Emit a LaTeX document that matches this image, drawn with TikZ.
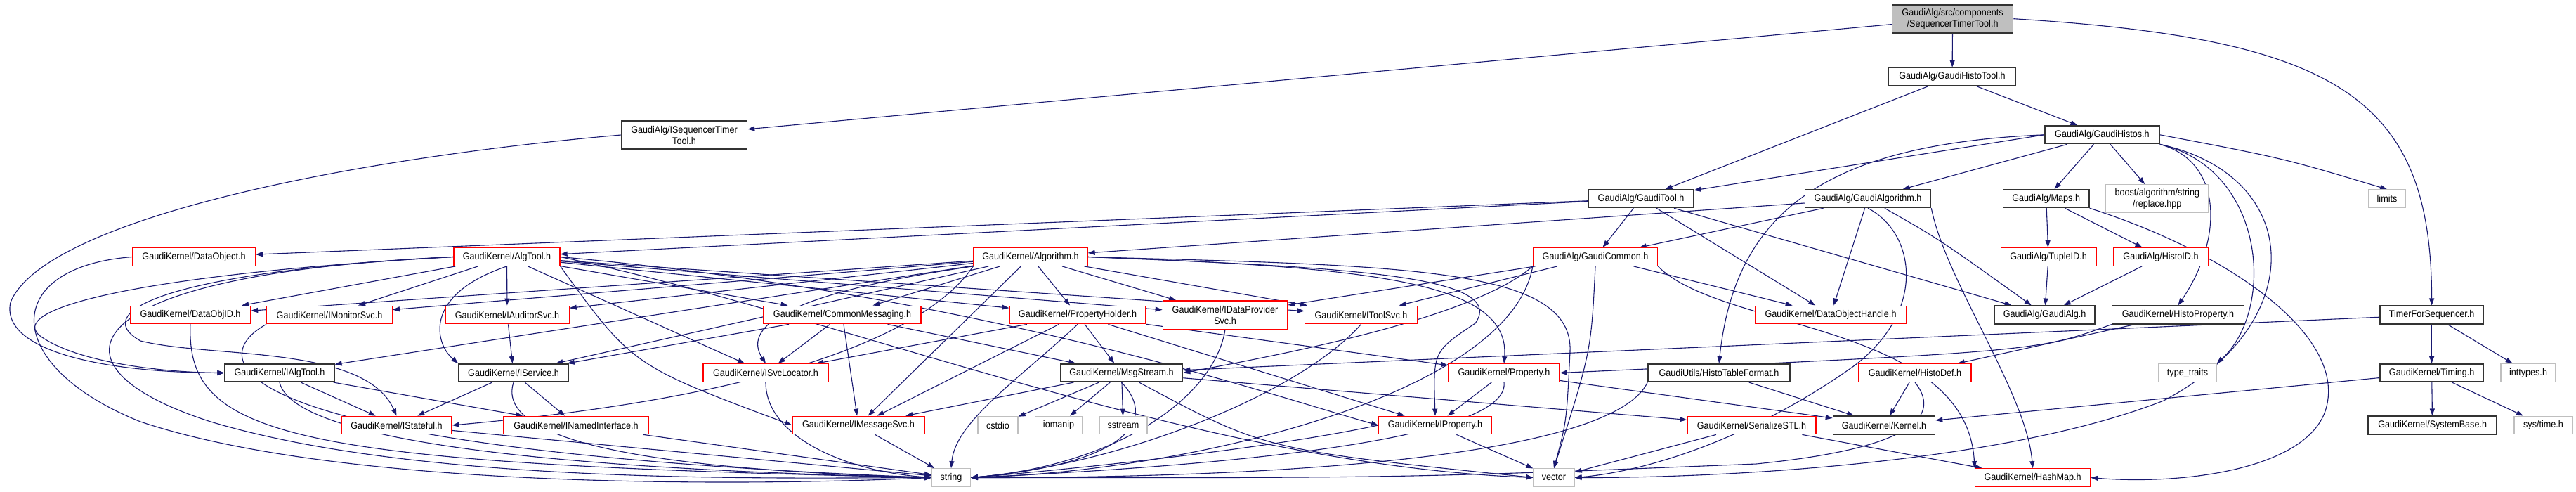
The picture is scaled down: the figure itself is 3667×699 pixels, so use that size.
\documentclass[tikz,border=0pt]{standalone}
\usepackage{fontspec}
\setmainfont{Liberation Sans}[FakeStretch=0.9]
\usetikzlibrary{arrows.meta}
\definecolor{edgec}{HTML}{191970}
\definecolor{grayb}{HTML}{BFBFBF}
\pgfdeclarelayer{background}
\pgfsetlayers{background,main}
\begin{document}
\begin{tikzpicture}[x=1pt,y=-1pt,
  nb/.style={draw, line width=1.3pt, inner sep=0pt, minimum height=25.5pt, align=center, font=\fontsize{14}{16}\selectfont, fill=white},
  bbox/.style={nb, draw=black!80, line width=1.6pt},
  rbox/.style={nb, draw=red},
  gbox/.style={nb, draw=grayb},
  rootbox/.style={nb, draw=black!80, line width=1.6pt, fill=grayb},
  dep/.style={draw=edgec, line width=1.1pt, -{Triangle[length=10pt,width=7pt]}}
]
\useasboundingbox (0,0) rectangle (3667,699);
% row 1-3
\node[rootbox, minimum width=172, minimum height=40] (root) at (2779.6,26.7) {GaudiAlg/src/components\\/SequencerTimerTool.h};
\node[bbox, minimum width=179, minimum height=40] (ist) at (974,192) {GaudiAlg/ISequencerTimer\\Tool.h};
\node[bbox, minimum width=181] (ght) at (2779,109.3) {GaudiAlg/GaudiHistoTool.h};
\node[bbox, minimum width=163] (gh) at (2992.4,191.8) {GaudiAlg/GaudiHistos.h};
\node[bbox, minimum width=149] (gt) at (2336,282.7) {GaudiAlg/GaudiTool.h};
\node[bbox, minimum width=179] (ga) at (2659,282.7) {GaudiAlg/GaudiAlgorithm.h};
\node[bbox, minimum width=122.4] (maps) at (2912.7,282.7) {GaudiAlg/Maps.h};
\node[gbox, minimum width=146.5, minimum height=39.6] (boost) at (3070.8,282.5) {boost/algorithm/string\\/replace.hpp};
\node[gbox, minimum width=53.3] (limits) at (3398,282.7) {limits};
% row 4
\node[rbox, minimum width=174.5] (dobj) at (276,365.5) {GaudiKernel/DataObject.h};
\node[rbox, minimum width=151] (algtool) at (721.5,365.5) {GaudiKernel/AlgTool.h};
\node[rbox, minimum width=162] (algo) at (1467,365.5) {GaudiKernel/Algorithm.h};
\node[rbox, minimum width=177] (gc) at (2271,365.5) {GaudiAlg/GaudiCommon.h};
\node[rbox, minimum width=135.7] (tuple) at (2916,365.5) {GaudiAlg/TupleID.h};
\node[rbox, minimum width=134.5] (hid) at (3076,365.5) {GaudiAlg/HistoID.h};
% row 5
\node[rbox, minimum width=171] (doid) at (271,448) {GaudiKernel/DataObjID.h};
\node[rbox, minimum width=178.6] (imon) at (469,448) {GaudiKernel/IMonitorSvc.h};
\node[rbox, minimum width=176.3] (iaud) at (722,448) {GaudiKernel/IAuditorSvc.h};
\node[rbox, minimum width=224] (cm) at (1199,448) {GaudiKernel/CommonMessaging.h};
\node[rbox, minimum width=194] (ph) at (1534,448) {GaudiKernel/PropertyHolder.h};
\node[rbox, minimum width=177.5, minimum height=40.3] (idp) at (1744,448) {GaudiKernel/IDataProvider\\Svc.h};
\node[rbox, minimum width=160] (its) at (1937.5,448) {GaudiKernel/IToolSvc.h};
\node[rbox, minimum width=214.4] (doh) at (2606,448) {GaudiKernel/DataObjectHandle.h};
\node[bbox, minimum width=142.4] (galg) at (2910.6,448) {GaudiAlg/GaudiAlg.h};
\node[bbox, minimum width=187.8] (hprop) at (3100.5,448) {GaudiKernel/HistoProperty.h};
\node[bbox, minimum width=146.7] (tfs) at (3461.6,448) {TimerForSequencer.h};
% row 6
\node[bbox, minimum width=155.6] (ialg) at (398,530.5) {GaudiKernel/IAlgTool.h};
\node[bbox, minimum width=156] (isvc) at (731,530.5) {GaudiKernel/IService.h};
\node[rbox, minimum width=178] (isl) at (1090,530.5) {GaudiKernel/ISvcLocator.h};
\node[bbox, minimum width=174] (ms) at (1596.5,530.5) {GaudiKernel/MsgStream.h};
\node[rbox, minimum width=158] (prop) at (2141,530.5) {GaudiKernel/Property.h};
\node[bbox, minimum width=202] (htf) at (2447,530.5) {GaudiUtils/HistoTableFormat.h};
\node[rbox, minimum width=160] (hdef) at (2726,530.5) {GaudiKernel/HistoDef.h};
\node[gbox, minimum width=82] (tt) at (3114,530.5) {type\_traits};
\node[bbox, minimum width=146.7] (timing) at (3461.6,530.5) {GaudiKernel/Timing.h};
\node[gbox, minimum width=78] (inttypes) at (3599,530.5) {inttypes.h};
% row 7
\node[rbox, minimum width=157] (istate) at (564.5,605) {GaudiKernel/IStateful.h};
\node[rbox, minimum width=206] (inamed) at (820,605) {GaudiKernel/INamedInterface.h};
\node[rbox, minimum width=188] (imsg) at (1222,605) {GaudiKernel/IMessageSvc.h};
\node[gbox, minimum width=57] (cstdio) at (1420.5,605) {cstdio};
\node[gbox, minimum width=66.6] (iomanip) at (1507,605) {iomanip};
\node[gbox, minimum width=68] (sstream) at (1599,605) {sstream};
\node[rbox, minimum width=161] (iprop) at (2043,605) {GaudiKernel/IProperty.h};
\node[rbox, minimum width=183] (sstl) at (2493.5,605) {GaudiKernel/SerializeSTL.h};
\node[bbox, minimum width=145] (kernel) at (2682,605) {GaudiKernel/Kernel.h};
\node[bbox, minimum width=183] (sysbase) at (3462.6,605) {GaudiKernel/SystemBase.h};
\node[gbox, minimum width=83] (systime) at (3620.5,605) {sys/time.h};
% row 8
\node[gbox, minimum width=54.5] (string) at (1354,679.5) {string};
\node[gbox, minimum width=58] (vector) at (2212,679.5) {vector};
\node[rbox, minimum width=164] (hashmap) at (2893.6,679.5) {GaudiKernel/HashMap.h};

\begin{pgfonlayer}{background}
% root
\draw[dep] (root) -- (ist);
\draw[dep] (root) -- (ght);
\draw[dep] (root.east) .. controls (3330,55) and (3461,140) .. (tfs.north);
\draw[dep] (ist.west) .. controls (450,230) and (60,320) .. (15,430) .. controls (0,500) and (150,530) .. (ialg.west);
% histo tool
\draw[dep] (ght) -- (gt);
\draw[dep] (ght) -- (gh);
% histos
\draw[dep] (gh.west) -- (gt);
\draw[dep] (gh.west) .. controls (2600,205) and (2470,300) .. (htf.north);
\draw[dep] (gh) -- (ga);
\draw[dep] (gh) -- (maps);
\draw[dep] (gh) -- (boost);
\draw[dep] (gh.east) .. controls (3250,225) .. (limits.north);
\draw[dep] (gh.south east) .. controls (3165,230) and (3165,340) .. (hprop.north);
\draw[dep] (gh.south east) .. controls (3225,240) and (3240,440) .. (tt.north east);
\draw[dep] (gh.south east) .. controls (3280,250) and (3290,460) .. (3080,570) .. controls (2850,660) and (2450,680) .. (vector.east);
% gaudi tool
\draw[dep] (gt) -- (algtool);
\draw[dep] (gt) -- (dobj);
\draw[dep] (gt) -- (gc);
\draw[dep] (gt) -- (doh);
\draw[dep] (gt) -- (galg);
% gaudi algorithm
\draw[dep] (ga) -- (algo);
\draw[dep] (ga) -- (gc);
\draw[dep] (ga) -- (doh);
\draw[dep] (ga) .. controls (2760,340) .. (galg);
\draw[dep] (ga.south) .. controls (2725,330) and (2745,440) .. (2640,520) .. controls (2500,620) and (2350,670) .. (vector.east);
\draw[dep] (ga.south east) .. controls (2770,400) and (2885,560) .. (hashmap.north);
% maps
\draw[dep] (maps) -- (tuple);
\draw[dep] (maps) -- (hid);
\draw[dep] (maps.south east) .. controls (3175,360) and (3345,480) .. (3310,585) .. controls (3280,670) and (3100,690) .. (hashmap.east);
\draw[dep] (tuple) -- (galg);
\draw[dep] (hid) -- (galg);
\draw[dep] (hprop) -- (hdef);
\draw[dep] (hprop.south west) .. controls (2900,500) .. (prop.east);
% timer
\draw[dep] (tfs) -- (ms);
\draw[dep] (tfs) -- (timing);
\draw[dep] (tfs) -- (inttypes);
\draw[dep] (timing) -- (kernel);
\draw[dep] (timing) -- (sysbase);
\draw[dep] (timing) -- (systime);
\draw[dep] (hdef) -- (kernel);
\draw[dep] (hdef.south) .. controls (2770,600) and (2700,640) .. (2500,660) .. controls (2000,680) .. (string.east);
\draw[dep] (htf) -- (kernel);
\draw[dep] (htf.south west) .. controls (2300,640) and (1900,680) .. (string.east);
% gaudi common
\draw[dep] (gc) -- (its);
\draw[dep] (gc) -- (idp);
\draw[dep] (gc) -- (doh);
\draw[dep] (gc.south west) .. controls (2100,450) and (1850,500) .. (ms.east);
\draw[dep] (gc.south) .. controls (2265,500) .. (vector.north);
\draw[dep] (gc.south west) .. controls (2150,560) and (1700,670) .. (string.east);
\draw[dep] (gc.south east) .. controls (2450,470) and (2800,460) .. (hashmap.north west);
% algtool
\draw[dep] (algtool) -- (doid);
\draw[dep] (algtool) -- (imon);
\draw[dep] (algtool) -- (iaud);
\draw[dep] (algtool.south) .. controls (600,420) and (620,490) .. (isvc.north west);
\draw[dep] (algtool.west) .. controls (200,390) and (0,440) .. (60,480) .. controls (120,520) and (250,530) .. (ialg.west);
\draw[dep] (algtool.west) .. controls (260,385) and (120,440) .. (200,485) .. controls (300,510) and (520,490) .. (istate.north);
\draw[dep] (algtool.west) .. controls (100,390) and (50,520) .. (300,600) .. controls (600,690) and (1100,680) .. (string.west);
\draw[dep] (algtool) -- (cm);
\draw[dep] (algtool) -- (ph);
\draw[dep] (algtool) -- (isl);
\draw[dep] (algtool) -- (its);
\draw[dep] (algtool) -- (idp);
\draw[dep] (algtool.south east) .. controls (900,520) .. (imsg.west);
\draw[dep] (algtool.east) .. controls (1400,420) and (1800,560) .. (iprop.west);
\draw[dep] (algtool.east) .. controls (1200,450) and (1700,660) .. (vector.west);
% leaves on the left
\draw[dep] (dobj.west) .. controls (0,380) and (0,520) .. (200,600) .. controls (500,700) and (1100,690) .. (string.west);
\draw[dep] (doid.south) .. controls (265,620) and (400,660) .. (string.west);
\draw[dep] (imon.south west) .. controls (290,510) and (300,640) .. (string.west);
\draw[dep] (iaud) -- (isvc);
% algorithm
\draw[dep] (algo) -- (doid);
\draw[dep] (algo) -- (imon);
\draw[dep] (algo) -- (iaud);
\draw[dep] (algo) -- (isvc);
\draw[dep] (algo) -- (ialg);
\draw[dep] (algo.south west) .. controls (1330,460) and (1150,560) .. (istate.east);
\draw[dep] (algo) -- (cm);
\draw[dep] (algo) -- (ph);
\draw[dep] (algo.south west) .. controls (1100,420) and (1060,470) .. (isl.north);
\draw[dep] (algo) -- (its);
\draw[dep] (algo) -- (idp);
\draw[dep] (algo) -- (imsg);
\draw[dep] (algo.east) .. controls (1950,380) and (2150,400) .. (prop.north);
\draw[dep] (algo.east) .. controls (1900,380) and (2150,390) .. (2100,460) .. controls (2040,500) .. (iprop.north);
\draw[dep] (algo.east) .. controls (2000,378) and (2240,380) .. (2235,500) .. controls (2230,600) .. (vector.north);
% common messaging
\draw[dep] (cm) -- (isvc);
\draw[dep] (cm) -- (isl);
\draw[dep] (cm) -- (imsg);
\draw[dep] (cm) -- (ms);
% property holder
\draw[dep] (ph) -- (isl);
\draw[dep] (ph) -- (imsg);
\draw[dep] (ph) -- (ms);
\draw[dep] (ph.south) .. controls (1450,540) and (1360,600) .. (string.north);
\draw[dep] (ph) -- (prop);
\draw[dep] (ph) -- (iprop);
% msgstream
\draw[dep] (ms) -- (imsg);
\draw[dep] (ms) -- (cstdio);
\draw[dep] (ms) -- (iomanip);
\draw[dep] (ms) -- (sstream);
\draw[dep] (ms.south) .. controls (1650,600) and (1600,660) .. (string.east);
\draw[dep] (ms) -- (sstl);
\draw[dep] (ms) .. controls (1800,640) .. (vector.west);
% lower
\draw[dep] (isl.south) .. controls (1090,620) and (1200,670) .. (string.west);
\draw[dep] (imsg) -- (string);
\draw[dep] (its.south) .. controls (1850,560) and (1600,660) .. (string.east);
\draw[dep] (idp.south) .. controls (1730,560) and (1600,660) .. (string.east);
\draw[dep] (iprop) -- (vector);
\draw[dep] (iprop.west) .. controls (1800,640) and (1500,670) .. (string.east);
\draw[dep] (prop) -- (iprop);
\draw[dep] (prop) -- (kernel);
\draw[dep] (prop.south) .. controls (2150,620) and (1800,660) .. (string.east);
\draw[dep] (sstl) -- (vector);
\draw[dep] (sstl) -- (hashmap);
\draw[dep] (isvc) -- (istate);
\draw[dep] (isvc) -- (inamed);
\draw[dep] (isvc.south) .. controls (700,640) and (1000,670) .. (string.west);
\draw[dep] (ialg) -- (istate);
\draw[dep] (ialg) -- (inamed);
\draw[dep] (ialg.south) .. controls (420,640) and (900,670) .. (string.west);
\draw[dep] (istate) -- (string);
\draw[dep] (inamed) -- (string);
\end{pgfonlayer}
\end{tikzpicture}
\end{document}
